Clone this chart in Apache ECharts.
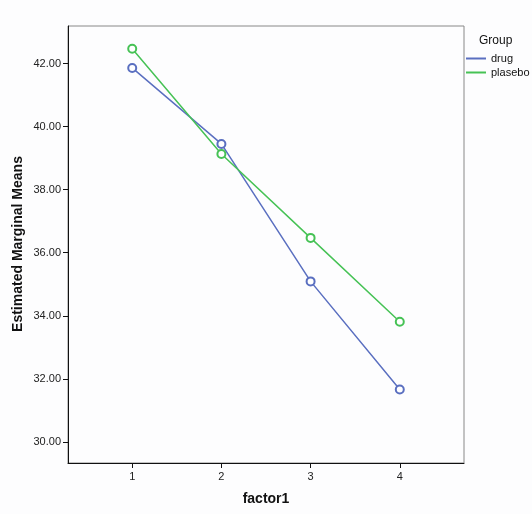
<!DOCTYPE html>
<html>
<head>
<meta charset="utf-8">
<script src="https://cdn.jsdelivr.net/npm/echarts@6/dist/echarts.min.js"></script>
<style>
  html, body { margin: 0; padding: 0; background: #fdfdfe; }
  #main { width: 532px; height: 514px; }
</style>
</head>
<body>
<div id="main"></div>
<script>
var factorLevels = [1, 2, 3, 4];
var drugMeans = [41.86, 39.45, 35.09, 31.66];
var plaseboMeans = [42.47, 39.13, 36.47, 33.81];
var yTicks = [30, 32, 34, 36, 38, 40, 42];

function pairs(xs, ys) {
    return xs.map(function (x, i) { return [x, ys[i]]; });
}

var myChart = echarts.init(document.getElementById('main'));
var option = {
    backgroundColor: '#fdfdfe',
    textStyle: { fontFamily: 'Liberation Sans, Arial, sans-serif' },
    title: {
        text: 'Group',
        left: 479,
        top: 35,
        padding: 0,
        textStyle: { fontSize: 12, fontWeight: 'normal', color: '#111' }
    },
    legend: {
        orient: 'vertical',
        left: 466,
        top: 52,
        padding: 0,
        itemWidth: 20,
        itemHeight: 2,
        itemGap: 1,
        icon: 'rect',
        textStyle: { fontSize: 11, color: '#111', lineHeight: 13 },
        data: ['drug', 'plasebo']
    },
    // y axis title, placed by hand so it sits where the reference has it
    graphic: [{
        type: 'text',
        x: 18,
        y: 244,
        rotation: Math.PI / 2,
        style: {
            text: 'Estimated Marginal Means',
            font: 'bold 14px Liberation Sans, Arial, sans-serif',
            fill: '#111',
            align: 'center',
            verticalAlign: 'middle'
        }
    }],
    grid: {
        left: 68,
        right: 68,
        top: 26,
        bottom: 51,
        show: true,
        borderColor: '#888',
        borderWidth: 1,
        backgroundColor: '#fdfdfe',
        outerBoundsMode: 'none'
    },
    xAxis: {
        type: 'value',
        min: 0.28,
        max: 4.72,
        name: 'factor1',
        nameLocation: 'middle',
        nameGap: 29,
        nameTextStyle: { fontSize: 14, fontWeight: 'bold', color: '#111' },
        axisLine: { lineStyle: { color: '#111', width: 1 } },
        axisTick: { customValues: factorLevels, length: 5, lineStyle: { color: '#111' } },
        axisLabel: { customValues: factorLevels, fontSize: 11, color: '#222', margin: 8 },
        splitLine: { show: false }
    },
    yAxis: {
        type: 'value',
        min: 29.33,
        max: 43.19,
        axisLine: { show: true, lineStyle: { color: '#111', width: 1 } },
        axisTick: { show: true, customValues: yTicks, length: 5, lineStyle: { color: '#111' } },
        axisLabel: {
            customValues: yTicks,
            fontSize: 11,
            color: '#222',
            margin: 7,
            formatter: function (v) { return v.toFixed(2); }
        },
        splitLine: { show: false }
    },
    series: [{
        name: 'drug',
        type: 'line',
        data: pairs(factorLevels, drugMeans),
        symbol: 'emptyCircle',
        symbolSize: 8,
        color: '#5a6fc0',
        lineStyle: { width: 1.5, color: '#5a6fc0' },
        itemStyle: { color: '#5a6fc0', borderWidth: 1 },
        animation: false
    }, {
        name: 'plasebo',
        type: 'line',
        data: pairs(factorLevels, plaseboMeans),
        symbol: 'emptyCircle',
        symbolSize: 8,
        color: '#46c255',
        lineStyle: { width: 1.5, color: '#46c255' },
        itemStyle: { color: '#46c255', borderWidth: 1 },
        animation: false
    }]
};
myChart.setOption(option);
</script>
</body>
</html>
